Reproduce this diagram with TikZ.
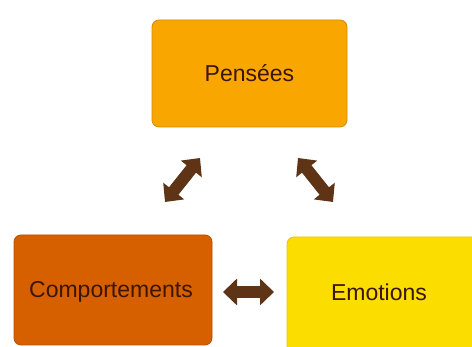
\documentclass[tikz,border=0pt]{standalone}
\usepackage{fontspec}
\setmainfont{Liberation Sans}
\usetikzlibrary{arrows.meta}
\definecolor{cPens}{HTML}{F9A600}
\definecolor{cComp}{HTML}{D65F00}
\definecolor{cEmo}{HTML}{FCDD00}
\definecolor{cTxt}{HTML}{3A1603}
\definecolor{cArr}{HTML}{5E3316}
\tikzset{
  box/.style={rounded corners=7pt, line width=0.8pt, inner sep=0pt, anchor=south west},
  lbl/.style={font=\fontsize{23}{26}\selectfont, text=cTxt},
  dblarrow/.style={line width=12pt, color=cArr,
    {Triangle[width=26pt,length=14pt]}-{Triangle[width=26pt,length=14pt]}}
}
\begin{document}
\begin{tikzpicture}[x=1pt,y=1pt]
\useasboundingbox (0,0) rectangle (472,347);
\clip (0,0) rectangle (472,347);
\fill[white] (0,0) rectangle (472,347);
% boxes
\draw[box, fill=cPens, draw=cPens!85!black] (152,220) rectangle (347,327);
\draw[box, fill=cComp, draw=cComp!85!black] (14,2) rectangle (212,112);
\draw[box, fill=cEmo, draw=cEmo!90!black] (287,-20) rectangle (490,110);
\node (pens) [lbl] at (249.5,274) {Pensées};
\node (comp) [lbl] at (111,55) {Comportements};
\node (emo) [lbl] at (379,55) {Emotions};
% arrow ends
\coordinate (a1) at (165,145);
\coordinate (a2) at (200,189);
\coordinate (b1) at (298,189);
\coordinate (b2) at (333,145);
\coordinate (c1) at (223,55);
\coordinate (c2) at (274,55);
\draw[dblarrow] (a1) -- (a2);
\draw[dblarrow] (b1) -- (b2);
\draw[dblarrow] (c1) -- (c2);
\end{tikzpicture}
\end{document}
